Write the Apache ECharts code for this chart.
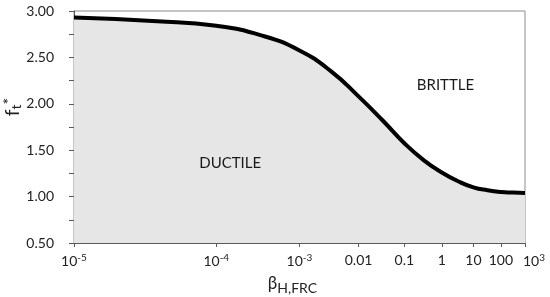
<!DOCTYPE html>
<html>
<head>
<meta charset="utf-8">
<script src="https://cdn.jsdelivr.net/npm/echarts/dist/echarts.min.js"></script>
<style>
  html, body { margin: 0; padding: 0; background: #fff; }
  #chart { width: 550px; height: 297px; }
</style>
</head>
<body>
<div id="chart"></div>
<script>
// exponent of beta_H,FRC (log10) and normalised strength ft*
const betaExp = [-5, -4.5, -4, -3.5, -3, -2.5, -2, -1.5, -1, -0.5, 0, 0.5, 1, 1.5, 2, 2.5, 3];
const ftStar = [2.93, 2.89, 2.84, 2.735, 2.575, 2.35, 2.08, 1.82, 1.575, 1.39, 1.26, 1.165, 1.10, 1.068, 1.05, 1.044, 1.04];

// x tick labels, one per decade
const tickExp = [-5, -4, -3, -2, -1, 0, 1, 2, 3];
const tickLabels = ['10{s|-5}', '10{s|-4}', '10{s|-3}', '0.01', '0.1', '1', '10', '100', '{p|10}{s|3}'];

// region labels [exponent, ft*, text]
const regionLabels = [
  [-3.86, 1.36, 'DUCTILE'],
  [0.11, 2.2, 'BRITTLE']
];

const FONT = 'Lato';
const shift = 6; // axis plots log(exponent + 6)

const chart = echarts.init(document.getElementById('chart'));

const lineData = betaExp.map((e, i) => [e + shift, ftStar[i]]);

const option = {
  animation: false,
  textStyle: { fontFamily: FONT },
  grid: {
    left: 74,
    right: 25,
    top: 11,
    bottom: 54,
    outerBoundsMode: 'none',
    containLabel: false,
    show: true,
    borderColor: '#8c8c8c',
    borderWidth: 1
  },
  xAxis: {
    type: 'log',
    min: 1,
    max: 9,
    name: 'β{sub|H,FRC}',
    nameLocation: 'middle',
    nameGap: 30,
    nameTextStyle: {
      fontFamily: FONT,
      fontSize: 17,
      color: '#222',
      padding: [0, 14, 0, 0],
      rich: {
        sub: { fontSize: 14, fontFamily: FONT, color: '#222', padding: [8, 0, 0, 0] }
      }
    },
    axisLine: { lineStyle: { color: '#595959', width: 1 } },
    axisTick: {
      show: true,
      inside: false,
      length: 4,
      customValues: tickExp.map((e) => e + shift),
      lineStyle: { color: '#595959' }
    },
    axisLabel: {
      customValues: tickExp.map((e) => e + shift),
      margin: 10,
      fontSize: 14,
      color: '#222',
      fontFamily: FONT,
      hideOverlap: false,
      showMinLabel: true,
      showMaxLabel: true,
      formatter: (v) => {
        const idx = tickExp.indexOf(Math.round(v - shift));
        return idx >= 0 ? tickLabels[idx] : '';
      },
      rich: {
        s: { fontSize: 10, fontFamily: FONT, color: '#222', padding: [0, 0, 7, 0] },
        p: { fontSize: 14, fontFamily: FONT, color: '#222', padding: [0, 0, 0, 18] }
      }
    },
    splitLine: { show: false },
    minorTick: { show: false },
    minorSplitLine: { show: false }
  },
  yAxis: {
    type: 'value',
    min: 0.5,
    max: 3,
    interval: 0.25,
    name: '{f|f}{t|t}{s|*}',
    nameLocation: 'middle',
    nameRotate: 90,
    nameGap: 49,
    nameMoveOverlap: false,
    nameTextStyle: {
      padding: [0, 0, 0, 40],
      rich: {
        f: { fontSize: 19, fontFamily: FONT, color: '#222' },
        t: { fontSize: 14, fontFamily: FONT, color: '#222', padding: [6, 0, 0, 0] },
        s: { fontSize: 16, fontFamily: FONT, color: '#222', padding: [0, 0, 8, 0] }
      }
    },
    axisLine: { show: true, lineStyle: { color: '#595959', width: 1 } },
    axisTick: { show: true, length: 5, lineStyle: { color: '#595959' } },
    axisLabel: {
      margin: 20,
      fontSize: 14,
      color: '#222',
      fontFamily: FONT,
      formatter: (v) => (Math.abs(v * 2 - Math.round(v * 2)) < 1e-6 ? v.toFixed(2) : '')
    },
    splitLine: { show: false }
  },
  series: [
    {
      type: 'line',
      data: lineData,
      smooth: true,
      showSymbol: false,
      lineStyle: { color: '#000', width: 4 },
      areaStyle: { color: '#e6e6e6', opacity: 1, origin: 'start' },
      markPoint: {
        symbol: 'circle',
        symbolSize: 1,
        itemStyle: { color: 'rgba(0,0,0,0)' },
        label: { show: true, position: 'inside', fontFamily: FONT, fontSize: 15, color: '#1a1a1a' },
        data: regionLabels.map((r) => ({
          coord: [r[0] + shift, r[1]],
          value: r[2],
          label: { formatter: r[2] }
        }))
      }
    }
  ]
};

chart.setOption(option);
</script>
</body>
</html>
